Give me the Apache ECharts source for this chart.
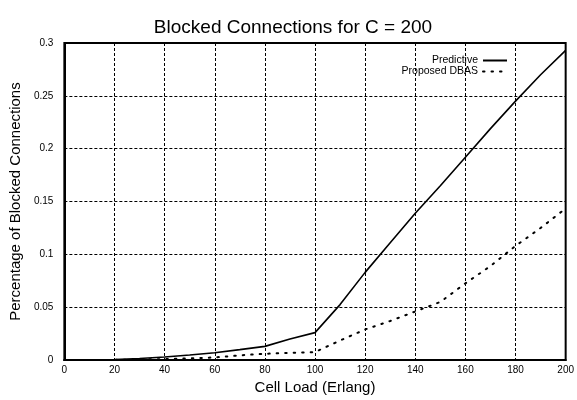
<!DOCTYPE html>
<html><head><meta charset="utf-8">
<script src="https://cdn.jsdelivr.net/npm/echarts@6/dist/echarts.min.js"></script>
<style>html,body{margin:0;padding:0;background:#fff}#c{width:577px;height:400px}</style>
</head><body><div id="c"></div>
<script>
var loads = [0,10,20,30,40,50,60,70,80,90,100,110,120,130,140,150,160,170,180,190,200];
var predictive = [0,0.0002,0.0005,0.0015,0.003,0.0048,0.0069,0.0099,0.013,0.02,0.026,0.0525,0.083,0.111,0.139,0.165,0.192,0.219,0.245,0.27,0.293];
var dbas = [0,0,0.0002,0.0005,0.001,0.0017,0.0025,0.0045,0.006,0.0068,0.0076,0.0185,0.029,0.037,0.046,0.055,0.0726,0.089,0.108,0.125,0.1435];
var xTicks = [0,20,40,60,80,100,120,140,160,180,200];
var yTicks = [0,0.05,0.1,0.15,0.2,0.25,0.3];
var names = ['Predictive','Proposed DBAS'];
var font = 'Liberation Sans, Arial, sans-serif';
var chart = echarts.init(document.getElementById('c'));
chart.setOption({
  animation:false,
  backgroundColor:'#fff',
  title:{text:'Blocked Connections for C = 200',left:288,textAlign:'center',top:13,
    textStyle:{fontFamily:font,fontSize:19,fontWeight:'normal',color:'#000'}},
  grid:{left:62,right:8,top:43,bottom:33,show:true,borderColor:'#000',borderWidth:2,containLabel:false},
  legend:{right:64,top:50,orient:'vertical',align:'right',itemWidth:24,itemHeight:8,itemGap:0,
    itemStyle:{opacity:0},
    textStyle:{fontFamily:font,fontSize:10.5,lineHeight:10.5,color:'#000',padding:[0,0,0,0]},
    data:names},
  xAxis:{type:'value',min:0,max:200,interval:20,
    name:'Cell Load (Erlang)',nameLocation:'middle',nameGap:18,
    nameTextStyle:{fontFamily:font,fontSize:15,color:'#000'},
    axisLine:{show:true,lineStyle:{color:'#000',width:2}},
    axisTick:{show:false},
    axisLabel:{fontFamily:font,fontSize:10,color:'#000',margin:5,showMaxLabel:true,
      formatter:function(v){return xTicks.indexOf(v)>=0?String(v):'';}},
    splitLine:{show:true,lineStyle:{color:'#000',type:[3,2],width:1}}},
  yAxis:{type:'value',min:0,max:0.3,interval:0.05,
    name:'Percentage of Blocked Connections',nameLocation:'middle',nameGap:34,
    nameTextStyle:{fontFamily:font,fontSize:15,color:'#000'},
    axisLine:{show:true,lineStyle:{color:'#000',width:2}},
    axisTick:{show:false},
    axisLabel:{fontFamily:font,fontSize:10,color:'#000',margin:11,
      formatter:function(v){var r=Math.round(v*100)/100;return yTicks.indexOf(r)>=0?String(r):'';}},
    splitLine:{show:true,lineStyle:{color:'#000',type:[3,2],width:1}}},
  series:[
    {name:names[0],type:'line',data:loads.map(function(x,i){return [x,predictive[i]];}),
     symbol:'none',lineStyle:{color:'#000',width:1.6},itemStyle:{color:'#000'}},
    {name:names[1],type:'line',data:loads.map(function(x,i){return [x,dbas[i]];}),
     symbol:'none',lineStyle:{color:'#000',width:2,type:[1.5,7],cap:'round'},itemStyle:{color:'#000'}}
  ]
});
</script></body></html>
